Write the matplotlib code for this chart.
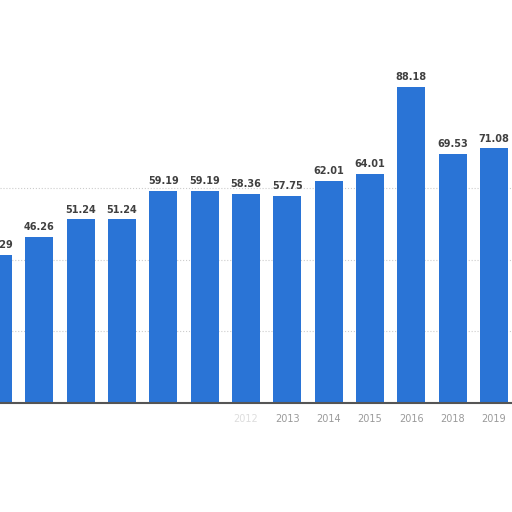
import matplotlib
matplotlib.use('Agg')
import matplotlib.pyplot as plt
import numpy as np

plt.rcParams['font.family'] = ['DejaVu Sans']

# data
years = ['2006', '2007', '2008', '2009', '2010', '2011', '2012',
         '2013', '2014', '2015', '2016', '2018', '2019']
values = [41.29, 46.26, 51.24, 51.24, 59.19, 59.19, 58.36,
          57.75, 62.01, 64.01, 88.18, 69.53, 71.08]
# tick labels of the early years are hidden in the screenshot
tick_colors = ['white'] * 6 + ['#dddddd'] + ['#9a9a9a'] * 6

BAR = '#2a74d6'
LABEL = '#404040'

fig = plt.figure(figsize=(5.12, 5.12), dpi=100)
fig.patch.set_facecolor('white')
# axes: full width, baseline at 403 px from top
ax = fig.add_axes([0, (512 - 403) / 512, 1, 358.5 / 512])
ax.set_facecolor('white')

x = np.arange(len(values))
bars = ax.bar(x, values, width=0.68, color=BAR, zorder=3)
for xi, v in zip(x, values):
    ax.text(xi, v + 1.3, f'{v:.2f}', ha='center', va='bottom',
            fontsize=7, fontweight='bold', color=LABEL, zorder=4)

ax.set_ylim(0, 100)
ax.set_xlim(2 / 41.33, 514 / 41.33)
ax.set_yticks([20, 40, 60])
ax.yaxis.grid(True, color='#cccccc', linestyle=':', linewidth=0.8, zorder=0)
ax.tick_params(axis='y', left=False, labelleft=False)

ax.set_xticks(x[1:])
ax.set_xticklabels(years[1:], fontsize=7)
for lbl, c in zip(ax.get_xticklabels(), tick_colors[1:]):
    lbl.set_color(c)
ax.tick_params(axis='x', length=0, pad=8)

for s in ['top', 'right', 'left']:
    ax.spines[s].set_visible(False)
ax.spines['bottom'].set_color('#555555')
ax.spines['bottom'].set_linewidth(1.5)
ax.spines['bottom'].set_zorder(5)

fig.savefig('out.png', dpi=100, facecolor='white')
